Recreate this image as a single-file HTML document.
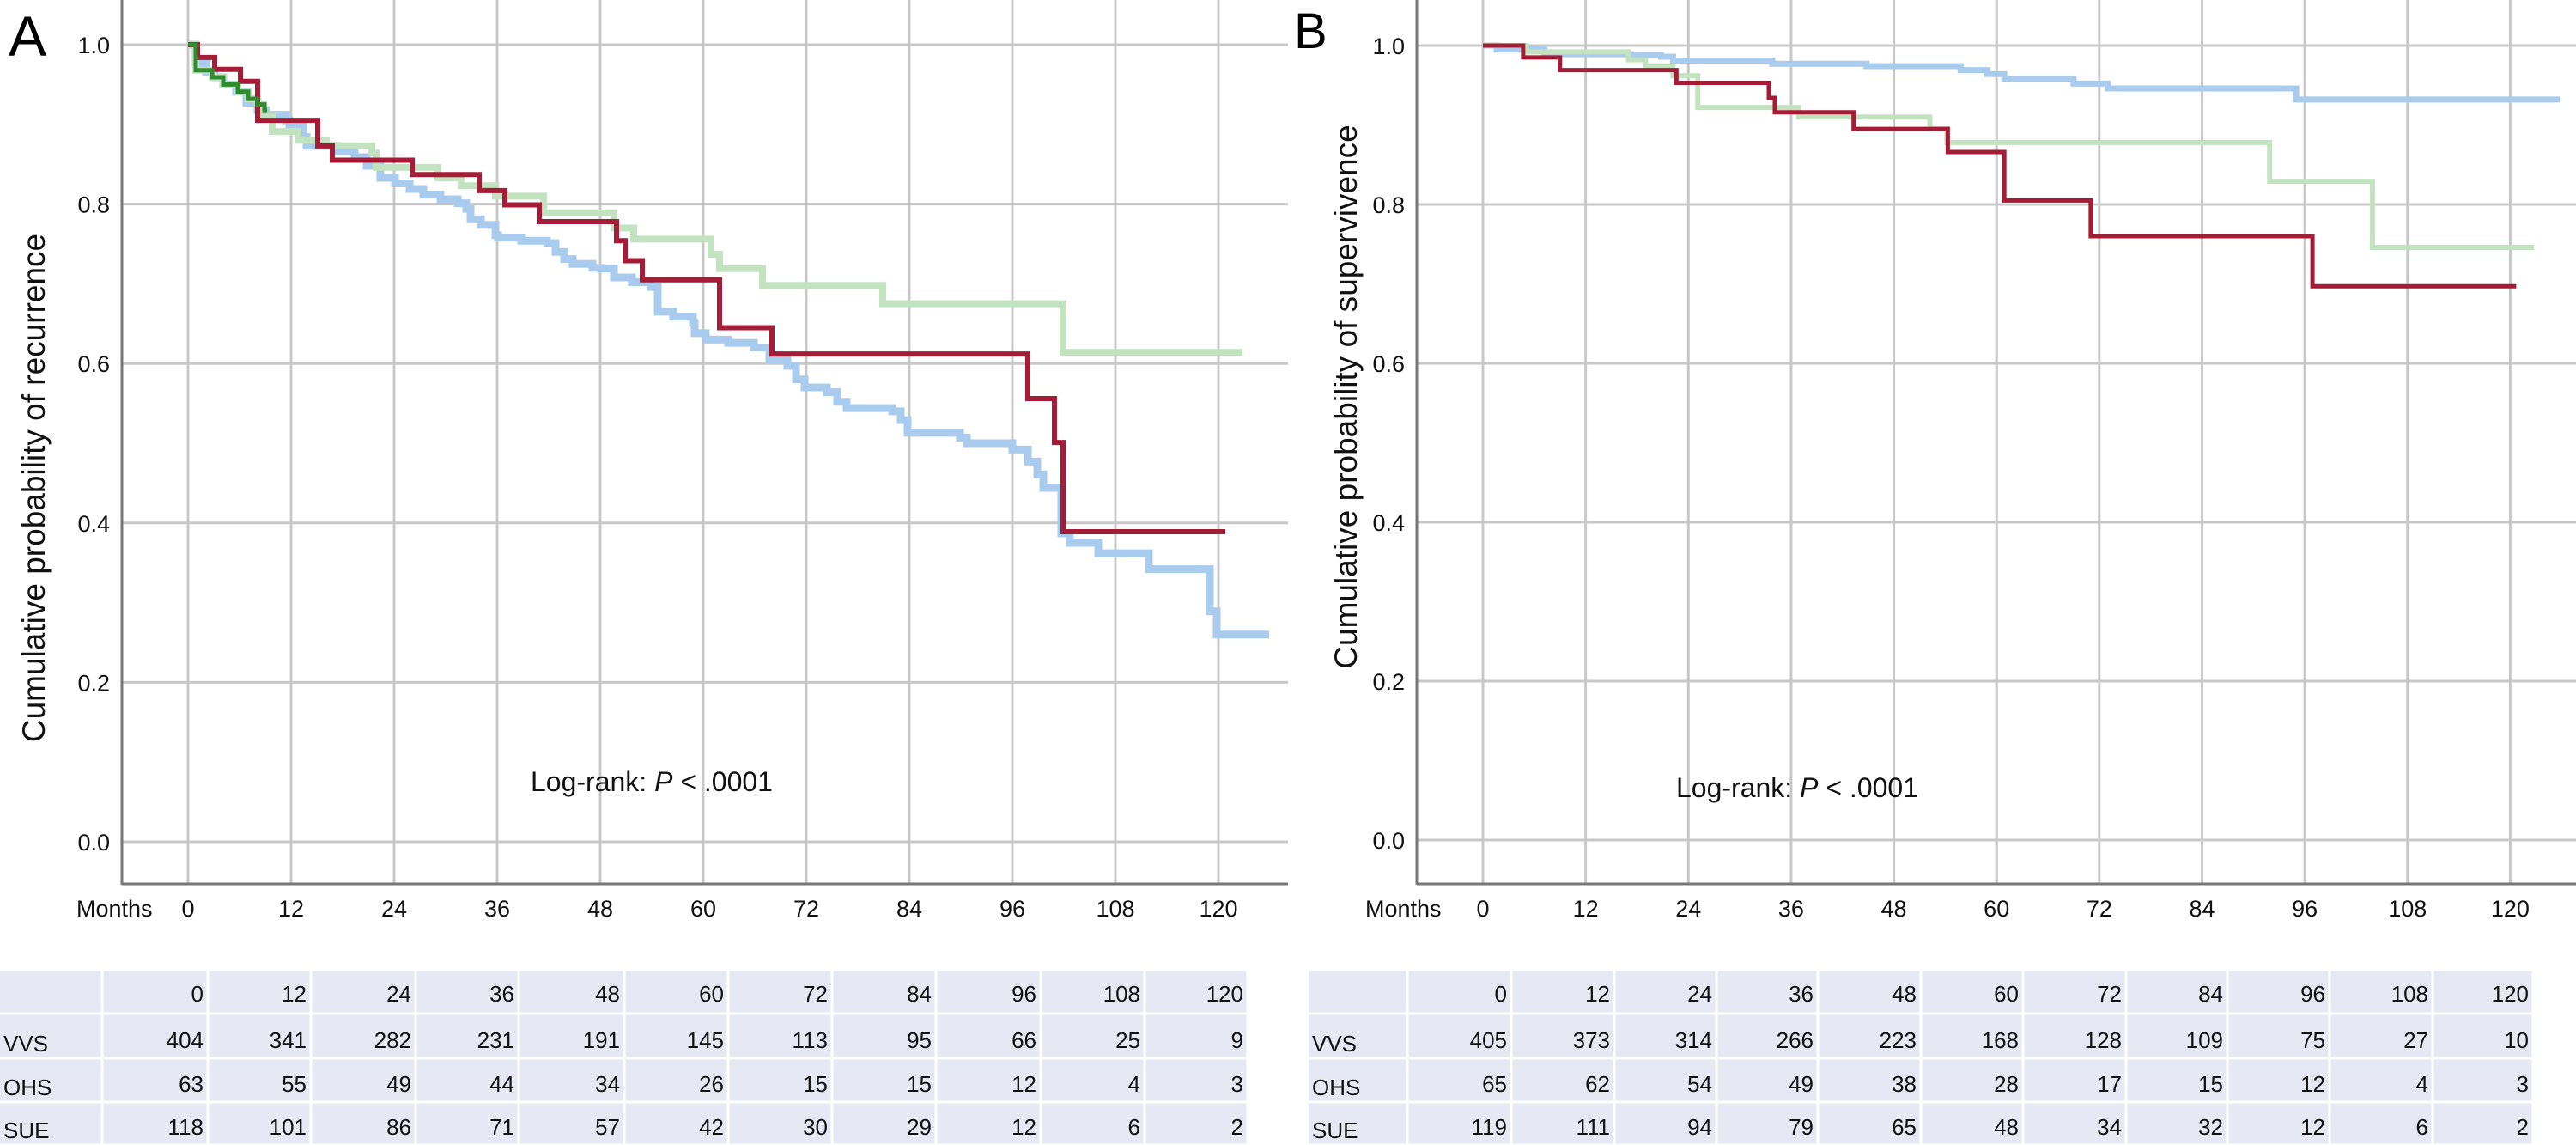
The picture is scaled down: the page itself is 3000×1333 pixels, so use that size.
<!DOCTYPE html>
<html><head><meta charset="utf-8"><style>
html,body{margin:0;padding:0;background:#fff;}
svg{display:block;font-family:"Liberation Sans",sans-serif;}
</style></head><body>
<svg id="chart" width="3000" height="1333" viewBox="0 0 3000 1333"></svg>
<script>
// ---- data ----
const monthTicks = [0,12,24,36,48,60,72,84,96,108,120];
const yTicks = [0,0.2,0.4,0.6,0.8,1.0];
const yTickLabels = ["0.0","0.2","0.4","0.6","0.8","1.0"];
const groups = ["VVS","OHS","SUE"];
// Panel A (recurrence) step points [month, probability]
const aBlue = [[0,1],[0.9,.977],[2.1,.966],[3.1,.959],[4.1,.95],[5.6,.941],[6.8,.927],[8.1,.918],[9.1,.912],[11.4,.905],[11.8,.898],[13.4,.884],[13.8,.873],[17.4,.866],[19.4,.859],[20.8,.848],[22.4,.833],[24.1,.826],[25.8,.819],[27.4,.812],[29.4,.806],[31.4,.801],[32.4,.794],[32.9,.781],[34.1,.774],[35.8,.761],[36.1,.758],[38.8,.754],[41.8,.751],[42.8,.74],[43.8,.731],[44.8,.725],[47.1,.72],[48.1,.719],[49.6,.708],[51.7,.702],[53.9,.696],[54.7,.665],[56.5,.659],[58.8,.651],[59,.638],[60.3,.63],[62.9,.626],[65.9,.62],[67.7,.605],[69.8,.597],[70.8,.58],[71.8,.57],[74.4,.564],[75.6,.552],[76.7,.544],[82,.54],[83,.529],[83.8,.513],[89.9,.507],[90.7,.5],[96,.492],[97.8,.477],[98.9,.461],[99.6,.444],[101.7,.387],[102.7,.375],[106,.362],[111.9,.342],[119,.289],[119.8,.26]];
const aBlueEnd = 125.9;
const aGreen = [[0,1],[0.9,.968],[2.8,.959],[4.1,.95],[5.8,.941],[7,.932],[8.1,.925],[8.8,.911],[9.8,.891],[12.8,.88],[16.1,.873],[21.4,.864],[21.9,.846],[29.1,.833],[31.8,.823],[35.8,.81],[41.4,.789],[49.6,.77],[51.9,.756],[60.9,.737],[61.9,.719],[66.9,.698],[80.9,.675],[101.9,.614]];
const aGreenEnd = 122.8;
const aDark = [[0,1],[0.9,.968],[2.8,.959],[4.1,.95],[5.8,.941],[7,.932],[8.1,.925],[8.9,.918]];
const aDarkEnd = 9.2;
const aRed = [[0,1],[1.1,.984],[3.1,.969],[6.1,.954],[8.1,.905],[15.1,.873],[16.8,.855],[26.1,.837],[33.9,.817],[36.9,.799],[40.9,.778],[49.9,.754],[50.9,.729],[52.9,.705],[61.9,.645],[68,.612],[97.8,.556],[100.9,.501],[101.9,.389]];
const aRedEnd = 120.8;
// Panel B (survival)
const bBlue = [[0,1],[1.6,.995],[7.2,.989],[17.3,.988],[20.8,.986],[22.2,.981],[33.8,.977],[44.8,.974],[55.8,.969],[58.9,.964],[60.9,.958],[69,.952],[73,.946],[95,.932]];
const bBlueEnd = 125.8;
const bGreen = [[0,1],[5.1,.992],[17,.982],[19,.974],[22.2,.962],[25.1,.922],[36.9,.91],[52.2,.895],[54.2,.878],[91.9,.829],[103.9,.746]];
const bGreenEnd = 122.8;
const bRed = [[0,1],[4.7,.985],[9,.969],[22.6,.953],[33.4,.934],[34.1,.916],[43.3,.895],[54.3,.866],[60.9,.805],[71,.76],[96.9,.697]];
const bRedEnd = 120.7;
// numbers at risk
const aRiskVVS = [404,341,282,231,191,145,113,95,66,25,9];
const aRiskOHS = [63,55,49,44,34,26,15,15,12,4,3];
const aRiskSUE = [118,101,86,71,57,42,30,29,12,6,2];
const bRiskVVS = [405,373,314,266,223,168,128,109,75,27,10];
const bRiskOHS = [65,62,54,49,38,28,17,15,12,4,3];
const bRiskSUE = [119,111,94,79,65,48,34,32,12,6,2];

const NS = "http://www.w3.org/2000/svg";
const svg = document.getElementById('chart');
function mk(tag, attrs, parent, txt){
  const e = document.createElementNS(NS, tag);
  for (const k in attrs) e.setAttribute(k, attrs[k]);
  if (txt !== undefined) e.textContent = txt;
  (parent || svg).appendChild(e);
  return e;
}

function panel(cfg){
  const g = mk('g', {});
  
  
  const X = m => cfg.x0 + m * cfg.pxm;
  const Y = v => cfg.y0 - v * cfg.pxv;
  // gridlines
  monthTicks.forEach(m => {
    const l = mk('line', {x1:X(m), x2:X(m), y1:0, y2:cfg.axisY, stroke:'#c8c8c8', 'stroke-width':3}, g);
    
    
    const t = mk('text', {x:X(m), y:cfg.axisY+38, 'font-size':cfg.tick, 'text-anchor':'middle', fill:'#111'}, g, m);
    
    
  });
  yTicks.forEach((v,i) => {
    const l = mk('line', {x1:cfg.axisX, x2:cfg.right, y1:Y(v), y2:Y(v), stroke:'#c8c8c8', 'stroke-width':3}, g);
    
    
    const t = mk('text', {x:cfg.axisX-14, y:Y(v)+10, 'font-size':cfg.tick, 'text-anchor':'end', fill:'#111'}, g, yTickLabels[i]);
    
    
  });
  // axes
  const ay = mk('line', {x1:cfg.axisX, x2:cfg.axisX, y1:0, y2:cfg.axisY+1, stroke:'#777', 'stroke-width':3}, g);
  
  
  const ax = mk('line', {x1:cfg.axisX, x2:cfg.right, y1:cfg.axisY, y2:cfg.axisY, stroke:'#777', 'stroke-width':3}, g);
  
  
  const mo = mk('text', {x:cfg.monthsX, y:cfg.axisY+38, 'font-size':cfg.tick, fill:'#111'}, g, 'Months');
  
  
  const yt = mk('text', {x:0, y:0, 'font-size':cfg.titleSize, 'text-anchor':'middle', fill:'#111', transform:`translate(${cfg.titleX},${cfg.titleY}) rotate(-90)`}, g, cfg.title);
  
  
  const lt = mk('text', {x:cfg.letterX, y:cfg.letterY, 'font-size':cfg.letterSize, fill:'#000'}, g, cfg.letter);
  
  
  const lr = mk('text', {x:cfg.lrX, y:cfg.lrY, 'font-size':32, fill:'#111'}, g);
  
  
  mk('tspan', {}, lr, 'Log-rank: ');
  mk('tspan', {'font-style':'italic'}, lr, 'P');
  mk('tspan', {}, lr, ' < .0001');
  // curves
  cfg.series.forEach(s => {
    let d = `M${X(s.pts[0][0])},${Y(s.pts[0][1])}`;
    for (let i=1;i<s.pts.length;i++) d += ` H${X(s.pts[i][0])} V${Y(s.pts[i][1])}`;
    d += ` H${X(s.end)}`;
    const p = mk('path', {d:d, fill:'none', stroke:s.color, 'stroke-width':s.w, 'stroke-linejoin':'miter'}, g);
    
    
  });
  // risk table
  const tb = mk('g', {}, g);
  
  
  const rows = [["", monthTicks], [groups[0], cfg.risk[0]], [groups[1], cfg.risk[1]], [groups[2], cfg.risk[2]]];
  const rowY = [1129,1180,1232,1283,1333];
  rows.forEach((r,ri) => {
    const y1 = rowY[ri], y2 = rowY[ri+1];
    for (let c=0;c<cfg.cols.length-1;c++){
      const x1 = cfg.cols[c], x2 = cfg.cols[c+1];
      const rc = mk('rect', {x:x1+(c?1.5:0), y:y1+1.5, width:x2-x1-(c?3:1.5), height:y2-y1-3, fill:'#e6e9f4'}, tb);
      
      
      if (c===0){
        if (r[0]){
          const t = mk('text', {x:x1+4, y:y2-8, 'font-size':cfg.tbl, fill:'#111'}, tb, r[0]);
          
          
        }
      } else {
        const t = mk('text', {x:x2-5, y:ri===0 ? y2-14 : y2-12, 'font-size':cfg.tbl, 'text-anchor':'end', fill:'#111'}, tb, r[1][c-1]);
        
        
      }
    }
  });
}

panel({name:'panel-a-recurrence', x0:219, pxm:10, y0:980, pxv:928, axisX:142, axisY:1029, right:1500,
  tick:27, monthsX:89, title:'Cumulative probability of recurrence', titleSize:37, titleX:52, titleY:568,
  letter:'A', letterX:10, letterY:65, letterSize:66, lrX:618, lrY:921,
  series:[
    {name:'vvs-curve-a', pts:aBlue, end:aBlueEnd, color:'#a9cbee', w:9},
    {name:'sue-curve-a', pts:aGreen, end:aGreenEnd, color:'#c2e2c0', w:8},
    {name:'ohs-curve-a', pts:aRed, end:aRedEnd, color:'#a51c36', w:6},
    {name:'early-green-curve-a', pts:aDark, end:aDarkEnd, color:'#2e8b2e', w:5}
  ],
  risk:[aRiskVVS,aRiskOHS,aRiskSUE], tbl:26,
  cols:[0,119,242,362,484,604,727,848,969,1090,1212,1333,1453]
});
panel({name:'panel-b-survival', x0:1727, pxm:9.97, y0:978, pxv:925, axisX:1650, axisY:1029, right:3000,
  tick:27, monthsX:1590, title:'Cumulative probability of supervivence', titleSize:37, titleX:1580, titleY:462,
  letter:'B', letterX:1507, letterY:56, letterSize:58, lrX:1952, lrY:928,
  series:[
    {name:'vvs-curve-b', pts:bBlue, end:bBlueEnd, color:'#a9cbee', w:7},
    {name:'sue-curve-b', pts:bGreen, end:bGreenEnd, color:'#c2e2c0', w:6},
    {name:'ohs-curve-b', pts:bRed, end:bRedEnd, color:'#a51c36', w:5}
  ],
  risk:[bRiskVVS,bRiskOHS,bRiskSUE], tbl:26,
  cols:[1524,1639,1760,1880,1999,2117,2237,2356,2476,2594,2713,2833,2950]
});
</script>
</body></html>
